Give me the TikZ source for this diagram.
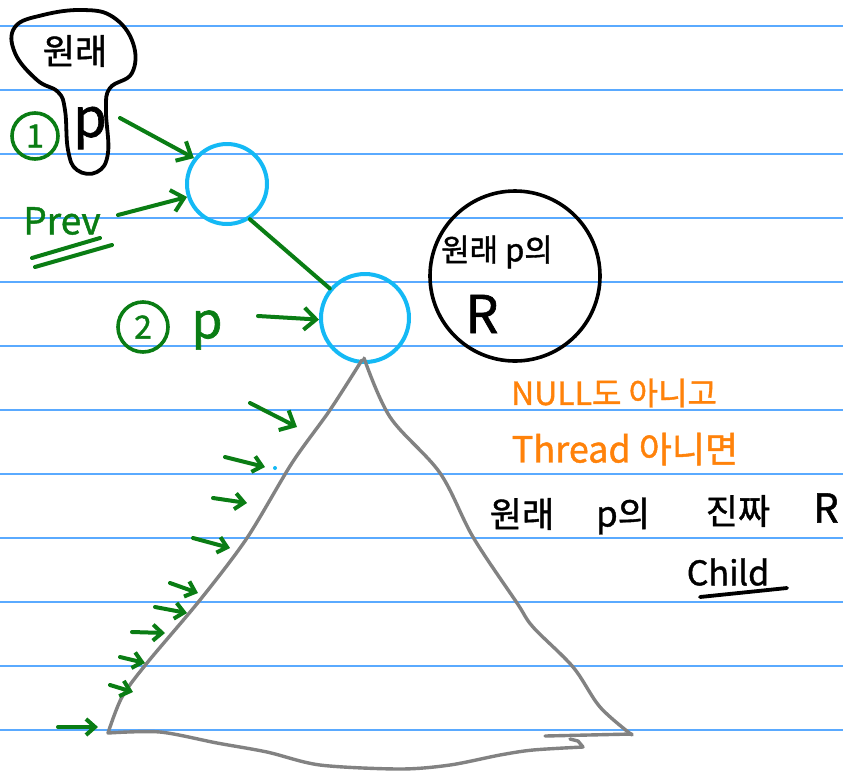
\documentclass[tikz,border=0pt]{standalone}
\usepackage{fontspec}
\setmainfont{Noto Sans CJK KR}[FakeBold=1.2,AutoFakeBold=1.2]
\usetikzlibrary{arrows.meta}
\definecolor{ruled}{RGB}{90,170,255}
\definecolor{nodeblue}{RGB}{20,185,245}
\definecolor{penGreen}{RGB}{10,125,20}
\definecolor{penOrange}{RGB}{255,130,10}
\definecolor{penGray}{RGB}{130,130,130}
\newcommand{\fsz}[1]{\fontsize{#1}{#1}\selectfont}
\begin{document}
\begin{tikzpicture}[x=1pt,y=-1pt,
  ruleline/.style={ruled,line width=1.3pt},
  bluecirc/.style={circle,draw=nodeblue,line width=4pt,inner sep=0pt},
  blackcirc/.style={circle,draw=black,line width=3.6pt,inner sep=0pt},
  greencirc/.style={circle,draw=penGreen,line width=3.6pt,inner sep=0pt,text=penGreen},
  greenpen/.style={penGreen,line width=4pt,line cap=round,line join=round},
  garrow/.style={greenpen,-{Straight Barb[length=12pt,width=22pt,line width=4pt]}},
  sarrow/.style={greenpen,-{Straight Barb[length=9pt,width=16pt,line width=4pt]}},
  graypen/.style={penGray,line width=3.4pt,line cap=round,line join=round},
  inkline/.style={black,line width=3.8pt,line cap=round},
  lbl/.style={inner sep=0pt,outer sep=0pt}
]
\useasboundingbox (0,0) rectangle (843,772);
\fill[white] (0,0) rectangle (843,772);
\foreach \yy in {26,90,154,218,282,346,410,474,538,602,666,730}
  \draw[ruleline] (0,\yy) -- (843,\yy);

% blob around "원래 p"
\draw[inkline,line join=round] plot[smooth cycle,tension=0.7] coordinates
  {(15,27) (43,15) (83,10) (113,17) (133,43) (132,73) (110,88) (106,110)
   (108,153) (97,172) (77,170) (68,150) (65,110) (58,92) (37,80) (15,53)};
\node[lbl] (orig) at (75,51) {\fsz{35}원래};
\node[lbl] (origp) at (90,128) {\fsz{54}p};

% circled numbers and labels
\node[greencirc,minimum size=46pt] (one) at (35,136) {\fsz{32}1};
\node[lbl,text=penGreen] (prev) at (62,221) {\fsz{37}Prev};
\coordinate (ul1a) at (32,258); \coordinate (ul1b) at (100,238);
\coordinate (ul2a) at (35,267); \coordinate (ul2b) at (112,245);
\draw[greenpen] (ul1a) -- (ul1b);
\draw[greenpen] (ul2a) -- (ul2b);
\node[greencirc,minimum size=50pt] (two) at (143,327) {\fsz{32}2};
\node[lbl,text=penGreen] (p2) at (207,330) {\fsz{50}p};

% tree nodes
\node[bluecirc,minimum size=80pt] (n1) at (227,184) {};
\node[bluecirc,minimum size=88pt] (n2) at (365,318) {};
\draw[greenpen] (n1.-57) -- (n2.140);

% arrows to nodes
\coordinate (s1) at (120,118);
\draw[garrow] (s1) -- (n1.142);
\coordinate (s2) at (118,215);
\draw[garrow] (s2) -- (n1.198);
\coordinate (s3) at (258,316);
\draw[garrow] (s3) -- (n2.182);

% original p's R
\node[blackcirc,minimum size=170pt] (rc) at (515,276) {};
\node[lbl] (rctext) at (497,252) {\fsz{31}원래 p의};
\node[lbl] (rcR) at (482,314) {\fsz{52}R};

% subtree triangle
\draw[graypen] plot[smooth,tension=0.5] coordinates
  {(362,360) (330,410) (292,463) (247,538) (200,600) (147,663)
   (122,697) (108,733)}
  -- plot[smooth,tension=0.5] coordinates
  {(108,733) (160,732) (217,743) (267,752) (320,765) (400,769) (450,765)
   (500,755) (533,750) (583,747)}
  -- (578,741) -- (570,739);
\draw[graypen] (545,736) -- (632,734);
\draw[graypen] plot[smooth,tension=0.55] coordinates
  {(364,358) (390,417) (440,473) (473,537) (517,603) (533,627) (573,667)
   (600,707) (632,735)};

% small arrows along the left edge
\coordinate (t1s) at (250,403); \coordinate (t1e) at (297,427);
\coordinate (t2s) at (225,457); \coordinate (t2e) at (265,467);
\coordinate (t3s) at (213,498); \coordinate (t3e) at (247,503);
\coordinate (t4s) at (193,538); \coordinate (t4e) at (230,548);
\coordinate (t5s) at (170,583); \coordinate (t5e) at (198,593);
\coordinate (t6s) at (155,607); \coordinate (t6e) at (187,613);
\coordinate (t7s) at (132,632); \coordinate (t7e) at (165,633);
\coordinate (t8s) at (120,657); \coordinate (t8e) at (145,663);
\coordinate (t9s) at (110,685); \coordinate (t9e) at (133,692);
\coordinate (t10s) at (58,727); \coordinate (t10e) at (98,727);
\draw[garrow] (t1s) -- (t1e);
\foreach \i in {2,...,10} \draw[sarrow] (t\i s) -- (t\i e);
\fill[nodeblue] (275,468) circle (2pt);

% explanatory texts
\node[lbl,text=penOrange] (null) at (614,393) {\fsz{32}NULL도 아니고};
\node[lbl,text=penOrange] (thread) at (625,449) {\fsz{36}Thread 아니면};
\node[lbl] (w1) at (522,514) {\fsz{35}원래};
\node[lbl] (w2) at (623,516) {\fsz{35}p의};
\node[lbl] (w3) at (738,511) {\fsz{35}진짜};
\node[lbl] (w4) at (826,508) {\fsz{40}R};
\node[lbl] (child) at (728,572) {\fsz{34}Child};
\coordinate (cu1) at (700,597); \coordinate (cu2) at (787,588);
\draw[inkline] (cu1) -- (cu2);
\end{tikzpicture}
\end{document}
